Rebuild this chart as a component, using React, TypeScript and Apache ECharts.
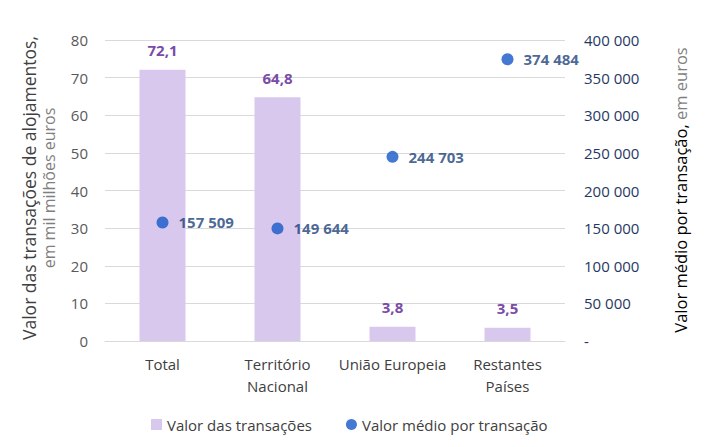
import React, { useEffect, useRef } from "react";
import * as echarts from "echarts";

const categories = ["Total", "Território\nNacional", "União Europeia", "Restantes\nPaíses"];
const totalValue = [72.1, 64.8, 3.8, 3.5];
const avgValue = [157509, 149644, 244703, 374484];
const leftTicks = { min: 0, max: 80, interval: 10 };
const rightTicks = { min: 0, max: 400000, interval: 50000 };

const FONT = "'Open Sans', 'Noto Sans', sans-serif";

const fmtSpace = (v: number) =>
  v === 0 ? "-" : String(Math.round(v)).replace(/\B(?=(\d{3})+(?!\d))/g, " ");

export default function App() {
  const ref = useRef<HTMLDivElement>(null);
  useEffect(() => {
    if (!ref.current) return;
    const chart = echarts.init(ref.current, null, { renderer: "svg" });
    chart.setOption({
      animation: false,
      textStyle: { fontFamily: FONT },
      grid: { left: 97, right: 152, top: 32, bottom: 114 },
      legend: {
        top: 404,
        left: 138,
        itemGap: 34,
        itemWidth: 11,
        itemHeight: 11,
        textStyle: { fontSize: 15, color: "#404040", fontFamily: FONT },
        data: [
          { name: "Valor das transações", icon: "rect" },
          { name: "Valor médio por transação", icon: "circle" },
        ],
      },
      xAxis: {
        type: "category",
        data: categories,
        axisLine: { lineStyle: { color: "#D9D9D9", width: 1 } },
        axisTick: { show: false },
        axisLabel: {
          interval: 0,
          fontSize: 15,
          color: "#404040",
          margin: 12,
          lineHeight: 22,
          fontFamily: FONT,
        },
      },
      yAxis: [
        {
          type: "value",
          ...leftTicks,
          axisLine: { show: false },
          axisTick: { show: false },
          splitLine: { lineStyle: { color: "#D9D9D9" } },
          axisLabel: { fontSize: 15, color: "#595959", margin: 17, fontFamily: FONT },
        },
        {
          type: "value",
          ...rightTicks,
          position: "right",
          axisLine: { show: false },
          axisTick: { show: false },
          splitLine: { show: false },
          axisLabel: {
            fontSize: 15,
            color: "#1F3864",
            margin: 19,
            align: "left",
            fontFamily: FONT,
            formatter: (v: number) => fmtSpace(v),
          },
        },
      ],
      series: [
        {
          name: "Valor das transações",
          type: "bar",
          data: totalValue,
          barWidth: "40%",
          itemStyle: { color: "#D9C8EE" },
          label: {
            show: true,
            position: "top",
            distance: 12,
            fontSize: 15,
            fontWeight: "bold",
            color: "#7A4CA8",
            fontFamily: FONT,
            formatter: (p: any) => String(p.value).replace(".", ","),
          },
        },
        {
          name: "Valor médio por transação",
          type: "scatter",
          yAxisIndex: 1,
          data: avgValue,
          symbol: "circle",
          symbolSize: 12,
          itemStyle: { color: "#1558C8" },
          label: {
            show: true,
            position: "right",
            distance: 10,
            fontSize: 15,
            fontWeight: "bold",
            color: "#1B3F7A",
            fontFamily: FONT,
            formatter: (p: any) => fmtSpace(p.value),
          },
        },
      ],
      graphic: [
        {
          type: "text",
          x: 21,
          y: 180,
          rotation: Math.PI / 2,
          style: {
            text: "Valor das transações de alojamentos,",
            fontSize: 17.5,
            fill: "#404040",
            fontFamily: FONT,
            align: "center",
            verticalAlign: "middle",
          },
        },
        {
          type: "text",
          x: 41,
          y: 180,
          rotation: Math.PI / 2,
          style: {
            text: "em mil milhões euros",
            fontSize: 16,
            fill: "#7F7F7F",
            fontFamily: FONT,
            align: "center",
            verticalAlign: "middle",
          },
        },
        {
          type: "text",
          x: 672,
          y: 182,
          rotation: Math.PI / 2,
          style: {
            text: "{a|Valor médio por transação,}{b| em euros}",
            fontFamily: FONT,
            align: "center",
            verticalAlign: "middle",
            rich: {
              a: { fontSize: 16.5, fill: "#000000", fontFamily: FONT },
              b: { fontSize: 16.5, fill: "#7F7F7F", fontFamily: FONT },
            },
          },
        },
      ],
    });
    return () => chart.dispose();
  }, []);
  return <div ref={ref} style={{ width: 709, height: 447 }} />;
}
